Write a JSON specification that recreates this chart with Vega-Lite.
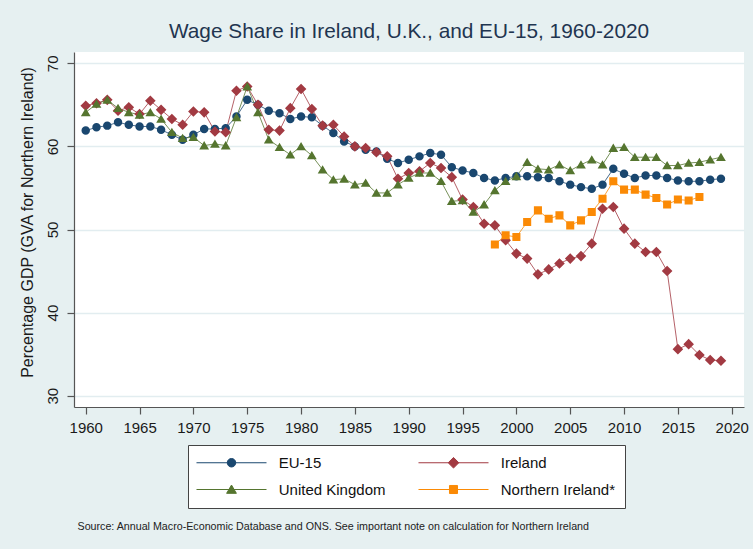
{
  "$schema": "https://vega.github.io/schema/vega-lite/v6.json",
  "width": 670,
  "height": 355,
  "autosize": {"type": "none"},
  "padding": {"left": 74, "top": 52, "right": 9, "bottom": 142},
  "background": "#e6f0f1",
  "title": {"text": "Wage Share in Ireland, U.K., and EU-15, 1960-2020", "fontSize": 20.8, "font": "Liberation Sans", "fontWeight": "normal", "color": "#1f3550", "baseline": "alphabetic", "offset": 14, "dy": 21},
  "datasets": {
    "wages": [
      {"series": "EU-15", "year": 1960, "value": 61.9}, {"series": "EU-15", "year": 1961, "value": 62.3}, {"series": "EU-15", "year": 1962, "value": 62.5}, {"series": "EU-15", "year": 1963, "value": 62.9}, {"series": "EU-15", "year": 1964, "value": 62.6}, {"series": "EU-15", "year": 1965, "value": 62.4}, {"series": "EU-15", "year": 1966, "value": 62.4}, {"series": "EU-15", "year": 1967, "value": 62.0}, {"series": "EU-15", "year": 1968, "value": 61.4}, {"series": "EU-15", "year": 1969, "value": 60.8},
      {"series": "EU-15", "year": 1970, "value": 61.4}, {"series": "EU-15", "year": 1971, "value": 62.1}, {"series": "EU-15", "year": 1972, "value": 62.1}, {"series": "EU-15", "year": 1973, "value": 62.2}, {"series": "EU-15", "year": 1974, "value": 63.6}, {"series": "EU-15", "year": 1975, "value": 65.6}, {"series": "EU-15", "year": 1976, "value": 65.0}, {"series": "EU-15", "year": 1977, "value": 64.3}, {"series": "EU-15", "year": 1978, "value": 64.0}, {"series": "EU-15", "year": 1979, "value": 63.3},
      {"series": "EU-15", "year": 1980, "value": 63.6}, {"series": "EU-15", "year": 1981, "value": 63.5}, {"series": "EU-15", "year": 1982, "value": 62.5}, {"series": "EU-15", "year": 1983, "value": 61.6}, {"series": "EU-15", "year": 1984, "value": 60.6}, {"series": "EU-15", "year": 1985, "value": 60.0}, {"series": "EU-15", "year": 1986, "value": 59.6}, {"series": "EU-15", "year": 1987, "value": 59.4}, {"series": "EU-15", "year": 1988, "value": 58.5}, {"series": "EU-15", "year": 1989, "value": 58.0},
      {"series": "EU-15", "year": 1990, "value": 58.4}, {"series": "EU-15", "year": 1991, "value": 58.8}, {"series": "EU-15", "year": 1992, "value": 59.2}, {"series": "EU-15", "year": 1993, "value": 59.0}, {"series": "EU-15", "year": 1994, "value": 57.5}, {"series": "EU-15", "year": 1995, "value": 57.1}, {"series": "EU-15", "year": 1996, "value": 56.8}, {"series": "EU-15", "year": 1997, "value": 56.2}, {"series": "EU-15", "year": 1998, "value": 55.9}, {"series": "EU-15", "year": 1999, "value": 56.2},
      {"series": "EU-15", "year": 2000, "value": 56.4}, {"series": "EU-15", "year": 2001, "value": 56.4}, {"series": "EU-15", "year": 2002, "value": 56.3}, {"series": "EU-15", "year": 2003, "value": 56.2}, {"series": "EU-15", "year": 2004, "value": 55.8}, {"series": "EU-15", "year": 2005, "value": 55.4}, {"series": "EU-15", "year": 2006, "value": 55.1}, {"series": "EU-15", "year": 2007, "value": 54.9}, {"series": "EU-15", "year": 2008, "value": 55.4}, {"series": "EU-15", "year": 2009, "value": 57.3},
      {"series": "EU-15", "year": 2010, "value": 56.7}, {"series": "EU-15", "year": 2011, "value": 56.2}, {"series": "EU-15", "year": 2012, "value": 56.5}, {"series": "EU-15", "year": 2013, "value": 56.5}, {"series": "EU-15", "year": 2014, "value": 56.2}, {"series": "EU-15", "year": 2015, "value": 55.9}, {"series": "EU-15", "year": 2016, "value": 55.8}, {"series": "EU-15", "year": 2017, "value": 55.8}, {"series": "EU-15", "year": 2018, "value": 56.0}, {"series": "EU-15", "year": 2019, "value": 56.1},
      {"series": "Ireland", "year": 1960, "value": 64.9}, {"series": "Ireland", "year": 1961, "value": 65.2}, {"series": "Ireland", "year": 1962, "value": 65.6}, {"series": "Ireland", "year": 1963, "value": 64.3}, {"series": "Ireland", "year": 1964, "value": 64.7}, {"series": "Ireland", "year": 1965, "value": 63.9}, {"series": "Ireland", "year": 1966, "value": 65.5}, {"series": "Ireland", "year": 1967, "value": 64.4}, {"series": "Ireland", "year": 1968, "value": 63.3}, {"series": "Ireland", "year": 1969, "value": 62.6},
      {"series": "Ireland", "year": 1970, "value": 64.2}, {"series": "Ireland", "year": 1971, "value": 64.1}, {"series": "Ireland", "year": 1972, "value": 61.8}, {"series": "Ireland", "year": 1973, "value": 61.7}, {"series": "Ireland", "year": 1974, "value": 66.7}, {"series": "Ireland", "year": 1975, "value": 67.2}, {"series": "Ireland", "year": 1976, "value": 65.0}, {"series": "Ireland", "year": 1977, "value": 62.0}, {"series": "Ireland", "year": 1978, "value": 61.9}, {"series": "Ireland", "year": 1979, "value": 64.6},
      {"series": "Ireland", "year": 1980, "value": 66.9}, {"series": "Ireland", "year": 1981, "value": 64.5}, {"series": "Ireland", "year": 1982, "value": 62.5}, {"series": "Ireland", "year": 1983, "value": 62.6}, {"series": "Ireland", "year": 1984, "value": 61.2}, {"series": "Ireland", "year": 1985, "value": 60.0}, {"series": "Ireland", "year": 1986, "value": 59.8}, {"series": "Ireland", "year": 1987, "value": 59.3}, {"series": "Ireland", "year": 1988, "value": 58.8}, {"series": "Ireland", "year": 1989, "value": 56.1},
      {"series": "Ireland", "year": 1990, "value": 56.8}, {"series": "Ireland", "year": 1991, "value": 57.0}, {"series": "Ireland", "year": 1992, "value": 58.0}, {"series": "Ireland", "year": 1993, "value": 57.4}, {"series": "Ireland", "year": 1994, "value": 56.3}, {"series": "Ireland", "year": 1995, "value": 53.6}, {"series": "Ireland", "year": 1996, "value": 52.7}, {"series": "Ireland", "year": 1997, "value": 50.7}, {"series": "Ireland", "year": 1998, "value": 50.5}, {"series": "Ireland", "year": 1999, "value": 48.7},
      {"series": "Ireland", "year": 2000, "value": 47.1}, {"series": "Ireland", "year": 2001, "value": 46.5}, {"series": "Ireland", "year": 2002, "value": 44.6}, {"series": "Ireland", "year": 2003, "value": 45.2}, {"series": "Ireland", "year": 2004, "value": 45.9}, {"series": "Ireland", "year": 2005, "value": 46.5}, {"series": "Ireland", "year": 2006, "value": 46.8}, {"series": "Ireland", "year": 2007, "value": 48.3}, {"series": "Ireland", "year": 2008, "value": 52.5}, {"series": "Ireland", "year": 2009, "value": 52.7},
      {"series": "Ireland", "year": 2010, "value": 50.1}, {"series": "Ireland", "year": 2011, "value": 48.3}, {"series": "Ireland", "year": 2012, "value": 47.3}, {"series": "Ireland", "year": 2013, "value": 47.3}, {"series": "Ireland", "year": 2014, "value": 45.0}, {"series": "Ireland", "year": 2015, "value": 35.6}, {"series": "Ireland", "year": 2016, "value": 36.2}, {"series": "Ireland", "year": 2017, "value": 34.9}, {"series": "Ireland", "year": 2018, "value": 34.3}, {"series": "Ireland", "year": 2019, "value": 34.2},
      {"series": "United Kingdom", "year": 1960, "value": 64.1}, {"series": "United Kingdom", "year": 1961, "value": 65.1}, {"series": "United Kingdom", "year": 1962, "value": 65.6}, {"series": "United Kingdom", "year": 1963, "value": 64.6}, {"series": "United Kingdom", "year": 1964, "value": 64.1}, {"series": "United Kingdom", "year": 1965, "value": 63.8}, {"series": "United Kingdom", "year": 1966, "value": 64.1}, {"series": "United Kingdom", "year": 1967, "value": 63.3}, {"series": "United Kingdom", "year": 1968, "value": 61.7}, {"series": "United Kingdom", "year": 1969, "value": 61.0},
      {"series": "United Kingdom", "year": 1970, "value": 61.1}, {"series": "United Kingdom", "year": 1971, "value": 60.1}, {"series": "United Kingdom", "year": 1972, "value": 60.3}, {"series": "United Kingdom", "year": 1973, "value": 60.1}, {"series": "United Kingdom", "year": 1974, "value": 63.5}, {"series": "United Kingdom", "year": 1975, "value": 67.2}, {"series": "United Kingdom", "year": 1976, "value": 64.1}, {"series": "United Kingdom", "year": 1977, "value": 60.8}, {"series": "United Kingdom", "year": 1978, "value": 59.9}, {"series": "United Kingdom", "year": 1979, "value": 59.0},
      {"series": "United Kingdom", "year": 1980, "value": 60.0}, {"series": "United Kingdom", "year": 1981, "value": 58.9}, {"series": "United Kingdom", "year": 1982, "value": 57.2}, {"series": "United Kingdom", "year": 1983, "value": 56.0}, {"series": "United Kingdom", "year": 1984, "value": 56.1}, {"series": "United Kingdom", "year": 1985, "value": 55.4}, {"series": "United Kingdom", "year": 1986, "value": 55.6}, {"series": "United Kingdom", "year": 1987, "value": 54.4}, {"series": "United Kingdom", "year": 1988, "value": 54.4}, {"series": "United Kingdom", "year": 1989, "value": 55.4},
      {"series": "United Kingdom", "year": 1990, "value": 56.2}, {"series": "United Kingdom", "year": 1991, "value": 56.8}, {"series": "United Kingdom", "year": 1992, "value": 56.8}, {"series": "United Kingdom", "year": 1993, "value": 55.8}, {"series": "United Kingdom", "year": 1994, "value": 53.4}, {"series": "United Kingdom", "year": 1995, "value": 53.5}, {"series": "United Kingdom", "year": 1996, "value": 52.1}, {"series": "United Kingdom", "year": 1997, "value": 53.0}, {"series": "United Kingdom", "year": 1998, "value": 54.7}, {"series": "United Kingdom", "year": 1999, "value": 55.8},
      {"series": "United Kingdom", "year": 2000, "value": 56.4}, {"series": "United Kingdom", "year": 2001, "value": 58.1}, {"series": "United Kingdom", "year": 2002, "value": 57.3}, {"series": "United Kingdom", "year": 2003, "value": 57.2}, {"series": "United Kingdom", "year": 2004, "value": 57.8}, {"series": "United Kingdom", "year": 2005, "value": 57.1}, {"series": "United Kingdom", "year": 2006, "value": 57.8}, {"series": "United Kingdom", "year": 2007, "value": 58.4}, {"series": "United Kingdom", "year": 2008, "value": 57.8}, {"series": "United Kingdom", "year": 2009, "value": 59.8},
      {"series": "United Kingdom", "year": 2010, "value": 59.9}, {"series": "United Kingdom", "year": 2011, "value": 58.7}, {"series": "United Kingdom", "year": 2012, "value": 58.7}, {"series": "United Kingdom", "year": 2013, "value": 58.7}, {"series": "United Kingdom", "year": 2014, "value": 57.7}, {"series": "United Kingdom", "year": 2015, "value": 57.7}, {"series": "United Kingdom", "year": 2016, "value": 58.0}, {"series": "United Kingdom", "year": 2017, "value": 58.1}, {"series": "United Kingdom", "year": 2018, "value": 58.4}, {"series": "United Kingdom", "year": 2019, "value": 58.7},
      {"series": "Northern Ireland*", "year": 1998, "value": 48.2}, {"series": "Northern Ireland*", "year": 1999, "value": 49.3},
      {"series": "Northern Ireland*", "year": 2000, "value": 49.1}, {"series": "Northern Ireland*", "year": 2001, "value": 50.9}, {"series": "Northern Ireland*", "year": 2002, "value": 52.3}, {"series": "Northern Ireland*", "year": 2003, "value": 51.3}, {"series": "Northern Ireland*", "year": 2004, "value": 51.7}, {"series": "Northern Ireland*", "year": 2005, "value": 50.5}, {"series": "Northern Ireland*", "year": 2006, "value": 51.1}, {"series": "Northern Ireland*", "year": 2007, "value": 52.1}, {"series": "Northern Ireland*", "year": 2008, "value": 53.7}, {"series": "Northern Ireland*", "year": 2009, "value": 55.8},
      {"series": "Northern Ireland*", "year": 2010, "value": 54.8}, {"series": "Northern Ireland*", "year": 2011, "value": 54.8}, {"series": "Northern Ireland*", "year": 2012, "value": 54.2}, {"series": "Northern Ireland*", "year": 2013, "value": 53.8}, {"series": "Northern Ireland*", "year": 2014, "value": 53.0}, {"series": "Northern Ireland*", "year": 2015, "value": 53.6}, {"series": "Northern Ireland*", "year": 2016, "value": 53.5}, {"series": "Northern Ireland*", "year": 2017, "value": 53.9}
    ]
  },
  "data": {"name": "wages"},
  "encoding": {
    "x": {
      "field": "year", "type": "quantitative",
      "scale": {"domain": [1958.91, 2021.14], "nice": false, "zero": false},
      "axis": {
        "values": [1960, 1965, 1970, 1975, 1980, 1985, 1990, 1995, 2000, 2005, 2010, 2015, 2020],
        "format": "d", "grid": false, "labelFlush": false,
        "labelFontSize": 15, "labelPadding": 6, "tickSize": 7,
        "title": "Source: Annual Macro-Economic Database and ONS. See important note on calculation for Northern Ireland",
        "titleX": 3, "titleY": 122.5, "titleAlign": "left", "titleAnchor": "start", "titleBaseline": "alphabetic",
        "titleFontSize": 10.7, "titleFontWeight": "normal", "titleColor": "#222222"
      }
    },
    "y": {
      "field": "value", "type": "quantitative",
      "scale": {"domain": [28.64, 71.36], "nice": false, "zero": false},
      "axis": {
        "values": [30, 40, 50, 60, 70], "grid": true, "gridColor": "#e2edf0", "gridWidth": 1.5,
        "labelAngle": -90, "labelAlign": "center", "labelBaseline": "middle", "labelPadding": 15,
        "labelFontSize": 15, "tickSize": 7, "labelFlush": false,
        "title": "Percentage GDP (GVA for Northern Ireland)",
        "titleX": -47, "titleY": 170, "titleBaseline": "middle", "titleAlign": "center",
        "titleFontSize": 16, "titleFontWeight": "normal"
      }
    }
  },
  "layer": [
    {
      "mark": {"type": "line", "strokeWidth": 1, "opacity": 0.8},
      "encoding": {
        "stroke": {
          "field": "series", "type": "nominal",
          "scale": {"domain": ["Northern Ireland*", "United Kingdom", "Ireland", "EU-15"], "range": ["#fb8a05", "#55752f", "#a23a42", "#1a476f"]},
          "legend": null
        }
      }
    },
    {
      "mark": {"type": "point", "filled": true, "opacity": 1, "size": 72},
      "encoding": {
        "color": {
          "field": "series", "type": "nominal",
          "scale": {"domain": ["EU-15", "United Kingdom", "Ireland", "Northern Ireland*"], "range": ["#1a476f", "#55752f", "#a23a42", "#fb8a05"]},
          "legend": {
            "title": null, "orient": "none", "legendX": 114, "legendY": 393, "columns": 2,
            "symbolStrokeColor": {"expr": "scale('color', datum.value)"}, "symbolStrokeWidth": 1,
            "encode": {"symbols": {"stroke": {"value": {"expr": "scale('color', datum.value)"}}, "strokeWidth": {"value": 1}}}
          }
        },
        "shape": {
          "field": "series", "type": "nominal",
          "scale": {
            "domain": ["EU-15", "United Kingdom", "Ireland", "Northern Ireland*"],
            "range": [
              "M-8.25,0H8.25M-1,0A1,1,0,1,0,1,0A1,1,0,1,0,-1,0Z",
              "M-8.25,0H8.25M0,-1.05L1.15,0.9L-1.15,0.9Z",
              "M-8.25,0H8.25M0,-1.25L1.25,0L0,1.25L-1.25,0Z",
              "M-8.25,0H8.25M-0.95,-0.95H0.95V0.95H-0.95Z"
            ]
          },
          "legend": {
            "title": null, "orient": "none", "legendX": 114, "legendY": 393, "columns": 2,
            "symbolStrokeColor": {"expr": "scale('color', datum.value)"}, "symbolStrokeWidth": 1,
            "encode": {"symbols": {"stroke": {"value": {"expr": "scale('color', datum.value)"}}, "strokeWidth": {"value": 1}}}
          }
        }
      }
    }
  ],
  "config": {
    "view": {"fill": "white", "stroke": null},
    "axis": {
      "domainColor": "#555555", "tickColor": "#555555", "domainWidth": 1.2, "tickWidth": 1.2,
      "labelFont": "Liberation Sans", "titleFont": "Liberation Sans",
      "labelColor": "#1a1a1a", "titleColor": "#1a1a1a"
    },
    "legend": {
      "padding": 10, "rowPadding": 11, "columnPadding": 30,
      "symbolSize": 72, "symbolOffset": 26, "labelOffset": 39.75,
      "labelFontSize": 15, "labelFont": "Liberation Sans", "labelColor": "#111111", "labelLimit": 300,
      "strokeColor": "#444444", "fillColor": "white"
    }
  }
}
